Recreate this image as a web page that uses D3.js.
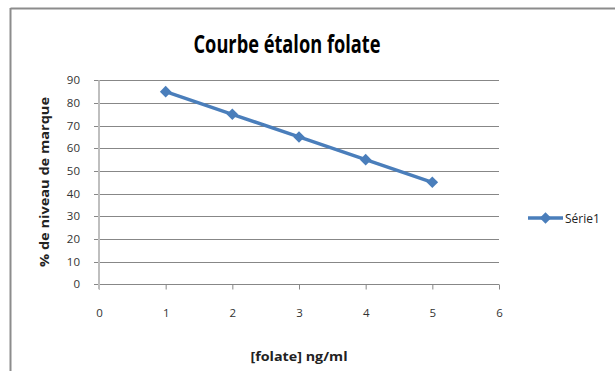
<!DOCTYPE html>
<html>
<head>
<meta charset="utf-8">
<script src="https://cdn.jsdelivr.net/npm/d3@7"></script>
<style>
  html, body { margin: 0; padding: 0; background: #fff; }
  svg { display: block; }
  text { font-family: "Open Sans", "Liberation Sans", sans-serif; }
</style>
</head>
<body>
<svg id="chart" width="615" height="371"></svg>
<script>
// Calibration data: folate concentration vs. label level
const concentrations = [1, 2, 3, 4, 5];
const labelLevels = [85, 75, 65, 55, 45];
const xTicks = [0, 1, 2, 3, 4, 5, 6];
const yTicks = [0, 10, 20, 30, 40, 50, 60, 70, 80, 90];
const seriesName = "Série1";
const chartTitle = "Courbe étalon folate";
const xTitle = "[folate] ng/ml";
const yTitle = "% de niveau de marque";

const svg = d3.select("#chart");
const blue = "#4a7ebb";

// Chart frame (top and left edges)
svg.append("line").attr("x1", 10.5).attr("x2", 615).attr("y1", 8.5).attr("y2", 8.5)
  .attr("stroke", "#8c8c8c").attr("stroke-width", 2);
svg.append("line").attr("x1", 10.5).attr("x2", 10.5).attr("y1", 8).attr("y2", 371)
  .attr("stroke", "#8c8c8c").attr("stroke-width", 2);

const x = d3.scaleLinear().domain([0, 6]).range([99, 499]);
const y = d3.scaleLinear().domain([0, 90]).range([284.3, 80.3]);

// Horizontal gridlines
svg.append("g")
  .selectAll("line")
  .data(yTicks.filter(d => d > 0))
  .join("line")
  .attr("x1", 94).attr("x2", 499)
  .attr("y1", d => Math.round(y(d)) + 0.5).attr("y2", d => Math.round(y(d)) + 0.5)
  .attr("stroke", "#878787").attr("stroke-width", 1);

// X axis
const xAxis = svg.append("g")
  .attr("transform", `translate(0,${Math.round(y(0)) + 0.5})`)
  .call(d3.axisBottom(x).tickValues(xTicks).tickFormat(d3.format("d"))
    .tickSize(5).tickPadding(19).tickSizeOuter(0));
xAxis.select(".domain").attr("stroke", "#878787").attr("d", `M94,0H499`);
xAxis.selectAll(".tick line").attr("stroke", "#878787");
xAxis.selectAll(".tick text").attr("font-size", 11.5).attr("fill", "#333");

// Y axis
const yAxis = svg.append("g")
  .attr("transform", `translate(${x(0)},0)`)
  .call(d3.axisLeft(y).tickValues(yTicks).tickSize(0).tickPadding(19));
yAxis.select(".domain").attr("stroke", "#bfbfbf").attr("stroke-width", 2)
  .attr("d", `M0,${y(90)}V${y(0) + 5}`);
yAxis.selectAll(".tick text").attr("font-size", 11.5).attr("fill", "#333");

// Series line and markers
const line = d3.line().x((d, i) => x(concentrations[i])).y(d => y(d));
svg.append("path")
  .datum(labelLevels)
  .attr("d", line)
  .attr("fill", "none").attr("stroke", blue).attr("stroke-width", 3.4)
  .attr("stroke-linejoin", "round");

const diamond = d3.symbol().type(d3.symbolDiamond2).size(85);
svg.append("g")
  .selectAll("path")
  .data(labelLevels)
  .join("path")
  .attr("d", diamond)
  .attr("transform", (d, i) => `translate(${x(concentrations[i])},${y(d)})`)
  .attr("fill", blue);

// Title
svg.append("text")
  .attr("x", 287).attr("y", 53)
  .attr("text-anchor", "middle")
  .attr("font-size", 25).attr("font-weight", 700).attr("fill", "#000")
  .attr("textLength", 187).attr("lengthAdjust", "spacingAndGlyphs")
  .text(chartTitle);

// Axis titles
svg.append("text")
  .attr("x", 299).attr("y", 361)
  .attr("text-anchor", "middle")
  .attr("font-size", 11.5).attr("font-weight", 700).attr("fill", "#222")
  .attr("textLength", 97).attr("lengthAdjust", "spacingAndGlyphs")
  .text(xTitle);

svg.append("text")
  .attr("transform", "translate(49,182) rotate(-90)")
  .attr("text-anchor", "middle")
  .attr("font-size", 11.5).attr("font-weight", 700).attr("fill", "#222")
  .attr("textLength", 170).attr("lengthAdjust", "spacingAndGlyphs")
  .text(yTitle);

// Legend
const legend = svg.append("g").attr("transform", "translate(528,218)");
legend.append("line").attr("x1", 0).attr("x2", 35).attr("y1", 0).attr("y2", 0)
  .attr("stroke", blue).attr("stroke-width", 3.4);
legend.append("path").attr("d", diamond).attr("transform", "translate(17.5,0)").attr("fill", blue);
legend.append("text").attr("x", 37).attr("y", 4.5)
  .attr("font-size", 12).attr("fill", "#222")
  .text(seriesName);
</script>
</body>
</html>
